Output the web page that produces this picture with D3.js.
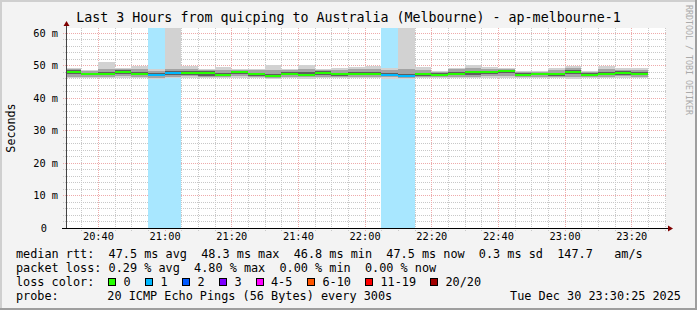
<!DOCTYPE html>
<html>
<head>
<meta charset="utf-8">
<script src="https://cdn.jsdelivr.net/npm/d3@7"></script>
<style>
  body { margin: 0; background: #f3f3f3; }
  text { font-family: "DejaVu Sans Mono", monospace; white-space: pre; }
</style>
</head>
<body>
<svg id="chart"></svg>
<script>
// 5 minute intervals (start time of each column)
const times = ["20:30","20:35","20:40","20:45","20:50","20:55","21:00","21:05","21:10","21:15",
  "21:20","21:25","21:30","21:35","21:40","21:45","21:50","21:55","22:00","22:05",
  "22:10","22:15","22:20","22:25","22:30","22:35","22:40","22:45","22:50","22:55",
  "23:00","23:05","23:10","23:15","23:20"];

// median rtt (ms)
const median = [48.1,47.5,47.5,48.1,47.4,47.2,47.8,47.8,47.8,47.1,
  47.9,47.3,46.8,47.5,47.2,47.8,47.3,47.4,47.4,47.1,
  46.8,47.3,47.2,47.4,47.9,48.0,48.3,47.2,47.3,47.3,
  48.1,47.2,47.5,47.8,47.5];

// smoke: spread of the 20 pings (ms)
const pingMin = [46.0,46.1,46.0,46.1,46.0,45.9,46.0,46.1,46.0,46.0,
  46.2,46.0,45.9,46.0,45.9,46.1,46.0,46.0,46.1,45.9,
  45.9,46.0,46.1,46.0,46.0,46.1,46.2,46.1,46.1,46.0,
  45.8,46.1,46.0,46.1,46.0];
const pingQ10 = [46.5,46.5,46.4,46.6,46.5,46.2,46.5,46.6,46.3,46.4,
  46.6,46.4,46.2,46.5,46.3,46.5,46.4,46.5,46.5,46.3,
  46.2,46.4,46.5,46.4,46.4,46.6,46.8,46.5,46.5,46.4,
  46.3,46.5,46.5,46.6,46.4];
const pingQ25 = [47.4,47.0,47.0,47.4,46.9,46.6,47.0,47.2,46.8,46.7,
  47.3,46.8,46.5,47.0,46.7,47.2,46.8,46.9,46.9,46.7,
  46.4,46.8,46.8,46.9,47.1,47.4,47.6,46.8,46.9,46.8,
  47.4,46.8,47.0,47.2,46.9];
const pingQ75 = [48.5,47.8,48.0,48.5,47.9,47.6,48.3,48.2,48.2,47.6,
  48.3,47.8,47.5,48.0,47.9,48.2,47.8,47.9,47.9,47.6,
  47.4,47.8,47.6,48.0,48.4,48.4,48.6,47.6,47.7,47.8,
  48.5,47.6,48.1,48.2,48.0];
const pingQ90 = [48.9,48.2,48.8,48.9,48.8,48.4,49.0,48.9,48.6,48.5,
  48.7,48.6,48.6,48.6,49.0,48.7,48.6,48.9,48.9,48.5,
  48.8,48.7,48.1,48.8,49.2,48.9,49.0,48.1,48.1,48.6,
  49.1,48.1,48.9,48.7,48.7];
const pingMax = [49.3,48.5,50.9,49.3,49.9,49.0,70.0,49.7,49.0,49.4,
  49.0,49.0,50.2,49.0,50.2,49.0,49.1,49.6,49.7,49.1,
  70.0,49.4,48.4,49.3,50.2,49.6,49.3,48.4,48.4,49.2,
  49.7,48.4,49.7,49.1,49.1];

// lost pings out of 20 per column
const lossCount = [0,0,0,0,0,1,1,0,0,0, 0,0,0,0,0,0,0,0,0,1, 1,0,0,0,0,0,0,0,0,0, 0,0,0,0,0];

const lossLabels = ["0","1","2","3","4-5","6-10","11-19","20/20"];
const lossUpTo   = [0,1,2,3,5,10,19,20];
const lossColors = ["#26ff00","#00b8ff","#0059ff","#7e00ff","#ff00ff","#ff5500","#ff0000","#a10000"];

const yTicks = [0,10,20,30,40,50,60];

const title = "Last 3 Hours from quicping to Australia (Melbourne) - ap-melbourne-1";
const legendRtt = "median rtt:  47.5 ms avg  48.3 ms max  46.8 ms min  47.5 ms now  0.3 ms sd  147.7   am/s";
const legendLoss = "packet loss: 0.29 % avg  4.80 % max  0.00 % min  0.00 % now";
const probeText = "20 ICMP Echo Pings (56 Bytes) every 300s";
const stamp = "Tue Dec 30 23:30:25 2025";

const W = 697, H = 310;
const svg = d3.select("#chart").attr("width", W).attr("height", H);

const parse = d3.timeParse("%Y-%m-%d %H:%M");
const t0 = new Date(2025, 11, 30, 20, 30, 25);
const t1 = new Date(2025, 11, 30, 23, 30, 25);
const x = d3.scaleTime().domain([t0, t1]).range([66, 666]);
const y = d3.scaleLinear().domain([0, 61.5]).range([228, 28]);

const cols = times.map((t, i) => {
  const s = parse("2025-12-30 " + t);
  return { start: s, end: d3.timeMinute.offset(s, 5), i: i };
});
const colX0 = d => Math.max(x(d.start), 66);
const colX1 = d => Math.min(x(d.end), 666);

function lossIndex(n) {
  return lossUpTo.findIndex(v => n <= v);
}

// canvas + frame
svg.append("rect").attr("width", W).attr("height", H).attr("fill", "#f3f3f3");
svg.append("path").attr("d", `M1,${H} V1 H${W}`).attr("stroke", "#cfcfcf").attr("stroke-width", 2).attr("fill", "none");
svg.append("path").attr("d", `M0,${H - 1} H${W - 1} V0`).attr("stroke", "#9e9e9e").attr("stroke-width", 2).attr("fill", "none");

svg.append("rect").attr("x", 66).attr("y", 28).attr("width", 600).attr("height", 200).attr("fill", "#fff");

// grid
const grid = svg.append("g").attr("shape-rendering", "crispEdges").attr("fill", "none");
d3.range(0, 61.5, 2).filter(v => v % 10 !== 0).forEach(v => {
  grid.append("line").attr("x1", 63).attr("x2", 666).attr("y1", Math.round(y(v)) + 0.5).attr("y2", Math.round(y(v)) + 0.5)
    .attr("stroke", "#c8c8c8").attr("stroke-dasharray", "1,1");
});
x.ticks(d3.timeMinute.every(5)).filter(d => d.getMinutes() % 20 !== 0).forEach(d => {
  grid.append("line").attr("x1", Math.round(x(d)) + 0.5).attr("x2", Math.round(x(d)) + 0.5).attr("y1", 28).attr("y2", 231)
    .attr("stroke", "#c8c8c8").attr("stroke-dasharray", "1,1");
});
yTicks.filter(v => v > 0).forEach(v => {
  grid.append("line").attr("x1", 63).attr("x2", 666).attr("y1", Math.round(y(v)) + 0.5).attr("y2", Math.round(y(v)) + 0.5)
    .attr("stroke", "#eeaaaa").attr("stroke-dasharray", "1,1");
});
x.ticks(d3.timeMinute.every(20)).forEach(d => {
  grid.append("line").attr("x1", Math.round(x(d)) + 0.5).attr("x2", Math.round(x(d)) + 0.5).attr("y1", 28).attr("y2", 231)
    .attr("stroke", "#eeaaaa").attr("stroke-dasharray", "1,1");
});

// loss background columns
const plot = svg.append("g").attr("shape-rendering", "crispEdges");
plot.selectAll("rect.lossbg").data(cols.filter(d => lossCount[d.i] > 0)).enter().append("rect")
  .attr("x", colX0).attr("width", d => colX1(d) - colX0(d))
  .attr("y", 28).attr("height", 200)
  .attr("fill", d => d3.interpolateRgb("#ffffff", lossColors[lossIndex(lossCount[d.i])])(0.34));

// smoke
const layers = [
  [pingMin, pingMax, "#d2d2d2"],
  [pingQ10, pingQ90, "#a4a4a4"],
  [pingQ25, pingQ75, "#5e5e5e"]
];
layers.forEach(([lo, hi, c]) => {
  plot.selectAll(null).data(cols).enter().append("rect")
    .attr("x", colX0).attr("width", d => colX1(d) - colX0(d))
    .attr("y", d => y(Math.min(hi[d.i], 61.5)))
    .attr("height", d => y(lo[d.i]) - y(Math.min(hi[d.i], 61.5)))
    .attr("fill", c);
});

// median
plot.selectAll("rect.med").data(cols).enter().append("rect")
  .attr("x", colX0).attr("width", d => colX1(d) - colX0(d))
  .attr("y", d => y(median[d.i]) - 1).attr("height", 2)
  .attr("fill", d => lossColors[lossIndex(lossCount[d.i])]);

// axes
const yAxis = svg.append("g").attr("transform", "translate(58,0)")
  .call(d3.axisLeft(y).tickValues(yTicks).tickSize(0).tickPadding(0).tickFormat(d => d ? d + " m" : "0"));
yAxis.select(".domain").remove();
yAxis.selectAll("text").attr("font-size", 10.3).attr("fill", "#000").attr("font-family", "DejaVu Sans Mono")
  .attr("dx", d => d ? 0 : -11);

const xAxis = svg.append("g").attr("transform", "translate(0,228)")
  .call(d3.axisBottom(x).ticks(d3.timeMinute.every(20)).tickSize(0).tickPadding(5).tickFormat(d3.timeFormat("%H:%M")));
xAxis.select(".domain").remove();
xAxis.selectAll("text").attr("font-size", 10.3).attr("fill", "#000").attr("font-family", "DejaVu Sans Mono");

svg.append("line").attr("x1", 66.5).attr("x2", 66.5).attr("y1", 228).attr("y2", 24).attr("stroke", "#444");
svg.append("line").attr("x1", 62).attr("x2", 670).attr("y1", 228.5).attr("y2", 228.5).attr("stroke", "#000");
svg.append("path").attr("d", "M63.5,26 L69.5,26 L66.5,21 Z").attr("fill", "#7f0000");
svg.append("path").attr("d", "M668,225.5 L668,231.5 L673,228.5 Z").attr("fill", "#7f0000");

// texts
svg.append("text").attr("x", 348.5).attr("y", 22).attr("text-anchor", "middle")
  .attr("font-size", 13.3).attr("fill", "#000").text(title);
svg.append("text").attr("transform", "translate(15,128) rotate(-90)").attr("text-anchor", "middle")
  .attr("font-size", 11.7).attr("fill", "#000").text("Seconds");
svg.append("text").attr("transform", "translate(685.5,5) rotate(90)")
  .attr("font-size", 8.3).attr("fill", "#aaa").text("RRDTOOL / TOBI OETIKER");

const leg = svg.append("g").attr("font-size", 11.83).attr("fill", "#000");
leg.append("text").attr("x", 16).attr("y", 258).text(legendRtt);
leg.append("text").attr("x", 16).attr("y", 272).text(legendLoss);

leg.append("text").attr("x", 16).attr("y", 286).text("loss color:");
const swX = [108.5, 145.5, 182.5, 219.5, 256, 307.5, 365.5, 430.5];
lossLabels.forEach((s, i) => {
  leg.append("rect").attr("x", swX[i]).attr("y", 278.5).attr("width", 7).attr("height", 7)
    .attr("fill", lossColors[i]).attr("stroke", "#000").attr("stroke-width", 1).attr("shape-rendering", "crispEdges");
  leg.append("text").attr("x", swX[i] + 15).attr("y", 286).text(s);
});

leg.append("text").attr("x", 16).attr("y", 300).text("probe:");
leg.append("text").attr("x", 107.3).attr("y", 300).text(probeText);
leg.append("text").attr("x", 681).attr("y", 300).attr("text-anchor", "end").text(stamp);
</script>
</body>
</html>
